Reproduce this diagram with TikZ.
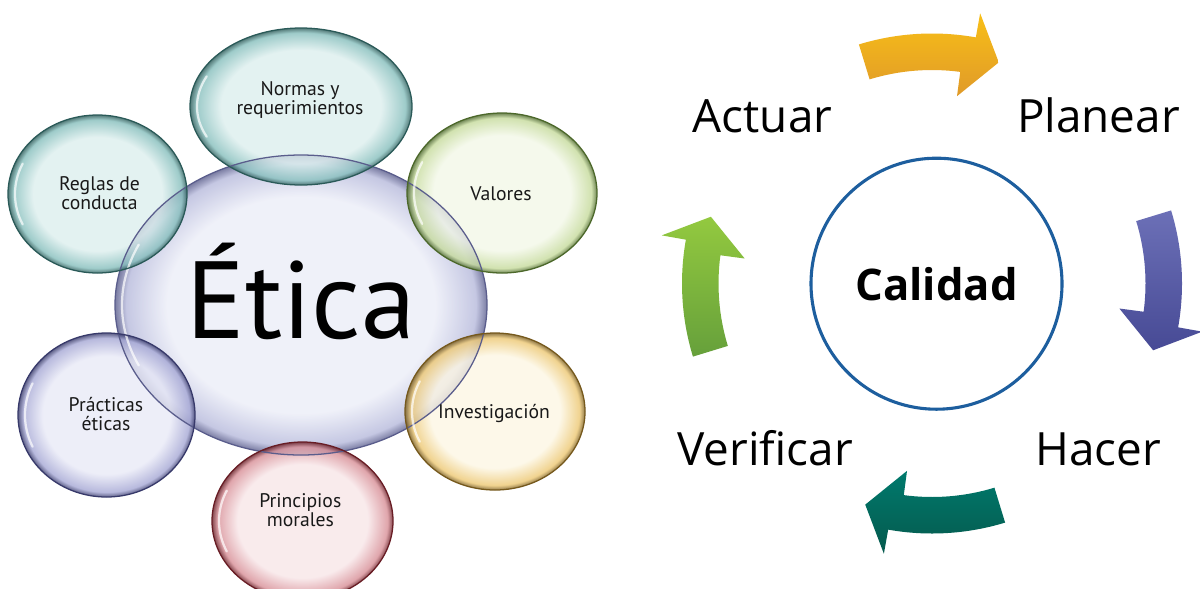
\documentclass[tikz,border=0pt]{standalone}
\usepackage{fontspec}
\usepackage{tikz}
\usetikzlibrary{shapes,backgrounds,positioning}

\newfontfamily\bubblefont{PT Sans}
\newfontfamily\cyclefont{Open Sans}

% bubble colours: core, ring, rim
\definecolor{eticore}{HTML}{ECEEF8}\definecolor{etiring}{HTML}{B7BADC}\definecolor{etirim}{HTML}{5A5D8C}
\definecolor{teacore}{HTML}{DDEFEE}\definecolor{tearing}{HTML}{86BFBD}\definecolor{tearim}{HTML}{2A5A58}
\definecolor{grecore}{HTML}{F3F8E8}\definecolor{grering}{HTML}{C6DB9C}\definecolor{grerim}{HTML}{4C682A}
\definecolor{lilcore}{HTML}{E9EAF7}\definecolor{lilring}{HTML}{A6A8D5}\definecolor{lilrim}{HTML}{37396A}
\definecolor{yelcore}{HTML}{FDF7E4}\definecolor{yelring}{HTML}{EDC873}\definecolor{yelrim}{HTML}{76591C}
\definecolor{redcore}{HTML}{F8E6E8}\definecolor{redring}{HTML}{D88F97}\definecolor{redrim}{HTML}{681C24}
% cycle colours
\definecolor{ringblue}{HTML}{1D5E9E}
\definecolor{orangetop}{HTML}{F8BF17}\definecolor{orangebot}{HTML}{E09A29}
\definecolor{purpletop}{HTML}{6C70B7}\definecolor{purplebot}{HTML}{474A95}
\definecolor{tealtop}{HTML}{007A6D}\definecolor{tealbot}{HTML}{05594D}
\definecolor{greentop}{HTML}{93C93F}\definecolor{greenbot}{HTML}{66A03B}

\colorlet{bubcore}{white}\colorlet{bubring}{gray}\colorlet{bubrim}{black}
\pgfdeclareradialshading[bubcore,bubring,bubrim]{bubble}{\pgfpoint{0bp}{0bp}}{%
  color(0bp)=(bubcore); color(18bp)=(bubcore); color(23.5bp)=(bubring);
  color(25bp)=(bubrim); color(50bp)=(bubrim)}

\def\bubblelist{etica/301/305/186/150/eti, normas/301/106.5/111/78.5/tea,
  reglas/97.5/194/89.5/79/tea, valores/502/193/95/80/gre,
  practicas/106.5/415/88.5/82/lil, investigacion/495/411.5/90/78.5/yel,
  principios/302.5/521/90.5/79/red}

\begin{document}
\begin{tikzpicture}[x=0.025cm, y=0.025cm,
  bubble node/.style={ellipse, shading=bubble, fill opacity=0.8, inner sep=0pt},
  bubble text/.style={anchor=base, align=center, text=black!90,
    font=\bubblefont\fontsize{14}{13.4}\selectfont},
  step label/.style={anchor=base, font=\cyclefont\fontsize{32.6}{36}\selectfont},
  cycle arrow/.style={draw=none}]

  \path[fill=white, use as bounding box] (0,0) rectangle (1200,-588);

  % ---- left: Etica bubbles
  \foreach \n/\x/\y/\rx/\ry/\col in \bubblelist {
    \colorlet{bubcore}{\col core}\colorlet{bubring}{\col ring}\colorlet{bubrim}{\col rim}
    \node[bubble node, minimum width=2*\rx*0.025cm, minimum height=2*\ry*0.025cm]
      (\n) at (\x,-\y) {};
  }
  \foreach \n/\x/\y/\rx/\ry/\col in \bubblelist {
    \draw[white, opacity=0.7, line width=1.6pt, line cap=round]
      ([shift={(155:{\rx-7} and {\ry-7})}]\n.center)
      arc[start angle=155, end angle=205, x radius=\rx-7, y radius=\ry-7];
    \draw[\col rim, line width=0.9pt] (\n.center) ellipse[x radius=\rx, y radius=\ry];
  }

  \node[anchor=base, font=\bubblefont\fontsize{78}{80}\selectfont] (etica-t) at (301,-338) {Ética};
  \node[bubble text] (normas-t) at (300,-114.3) {Normas y\\requerimientos};
  \node[bubble text] (reglas-t) at (99.5,-209) {Reglas de\\conducta};
  \node[bubble text] (valores-t) at (501,-200) {Valores};
  \node[bubble text] (practicas-t) at (106,-430) {Prácticas\\éticas};
  \node[bubble text] (investigacion-t) at (494,-418.3) {Investigación};
  \node[bubble text] (principios-t) at (300.3,-526) {Principios\\morales};

  % ---- right: quality cycle
  \node[circle, draw=ringblue, line width=2.2pt, minimum size=251*0.025cm,
    font=\cyclefont\bfseries\fontsize{31}{34}\selectfont] (calidad) at (936.5,-283.7) {Calidad};

  \node[step label] (actuar) at (762.5,-132) {Actuar};
  \node[step label] (planear) at (1098.5,-132) {Planear};
  \node[step label] (hacer) at (1098,-465) {Hacer};
  \node[step label] (verificar) at (765,-465) {Verificar};

  \coordinate (hub) at (932,-283.5);
  \foreach \a/\ctop/\cbot in {90/orangetop/orangebot, 0/purpletop/purplebot,
                              -90/tealtop/tealbot, 180/greentop/greenbot} {
    \shade[cycle arrow, top color=\ctop, bottom color=\cbot]
      ([shift={({\a+17}:250)}]hub) arc[start angle=\a+17, end angle=\a-10.1, radius=250]
      -- ([shift={({\a-10.1}:274.5)}]hub)
      -- ([shift={({\a-16.8}:231)}]hub)
      -- ([shift={({\a-7.6}:189)}]hub)
      -- ([shift={({\a-7.6}:213.5)}]hub)
      arc[start angle=\a-7.6, end angle=\a+17, radius=213.5] -- cycle;
  }

\end{tikzpicture}
\end{document}
